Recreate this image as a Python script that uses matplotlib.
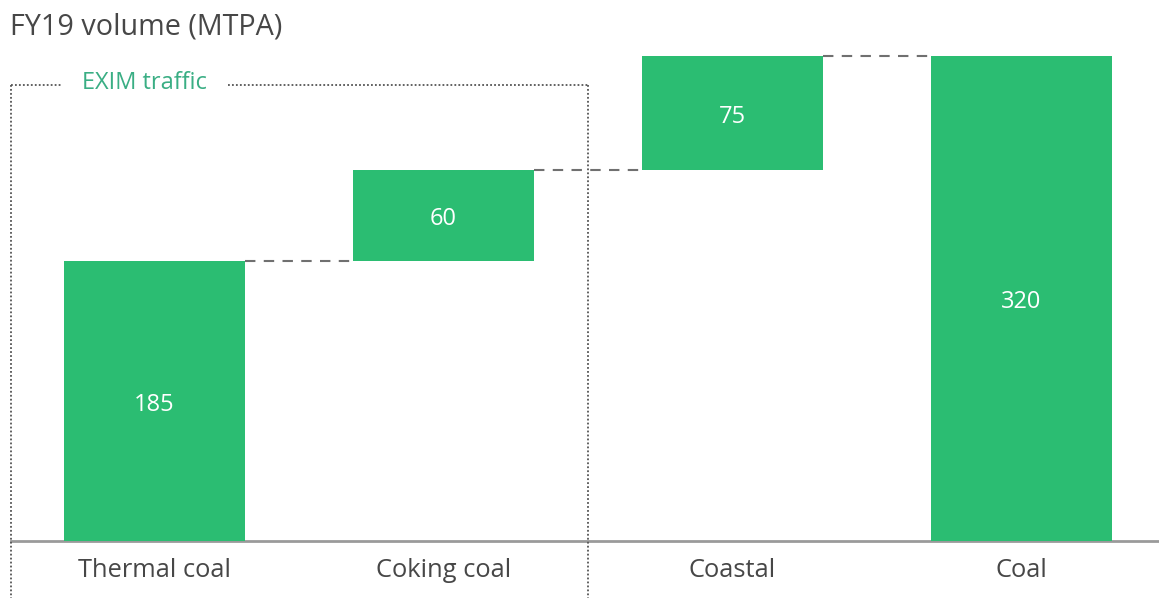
import matplotlib.pyplot as plt
import numpy as np

plt.rcParams['font.family'] = ['Open Sans', 'DejaVu Sans']

categories = ['Thermal coal', 'Coking coal', 'Coastal', 'Coal']
values = [185, 60, 75, 320]
is_total = [False, False, False, True]
group_label = 'EXIM traffic'
title = 'FY19 volume (MTPA)'

green = '#2bbd72'
text_grey = '#474747'

# waterfall bottoms
bottoms = []
running = 0
for v, tot in zip(values, is_total):
    if tot:
        bottoms.append(0)
        running = v
    else:
        bottoms.append(running)
        running += v
tops = [b + v for b, v in zip(bottoms, values)]

fig = plt.figure(figsize=(11.59, 5.98), dpi=100)
ax = fig.add_axes([0, 0, 1, 1])

x = np.arange(len(categories))
bw = 181 / 289
ax.bar(x, values, bottom=bottoms, width=bw, color=green, zorder=2)

for xi, b, v in zip(x, bottoms, values):
    ax.text(xi, b + v / 2 - 2.5, str(v), color='white', fontsize=17,
            ha='center', va='center', zorder=3)

# connectors
for i in range(len(x) - 1):
    ax.plot([x[i] + bw / 2, x[i + 1] - bw / 2], [tops[i], tops[i]],
            color='#707070', lw=1.5, dashes=(5, 4), zorder=1)

# baseline
ax.axhline(0, xmin=(11 / 1159), xmax=1, color='#9a9a9a', lw=2, zorder=1)

for xi, c in zip(x, categories):
    ax.text(xi, -19.5, c, color=text_grey, fontsize=18.4, ha='center', va='center')

# EXIM box
box_top = 301
left, right = -0.4965, 1.5
dot = dict(color='#555555', lw=1.3, linestyle=(0, (1, 1.2)), zorder=1)
ax.plot([left, left], [box_top, -40], **dot)
ax.plot([right, right], [box_top, -40], **dot)
ax.plot([left, -0.325], [box_top, box_top], **dot)
ax.plot([0.255, right], [box_top, box_top], **dot)
ax.text(-0.035, box_top + 1.5, group_label, color='#3aae84', fontsize=17,
        ha='center', va='center')

ax.text(-0.5, 339, title, color=text_grey, fontsize=20.7, ha='left', va='center')

ax.set_xlim(-154.5 / 289, (1159 - 154.5) / 289)
ax.set_ylim(-57 / 1.5156, 541 / 1.5156)
ax.axis('off')

fig.savefig('out.png', dpi=100)
